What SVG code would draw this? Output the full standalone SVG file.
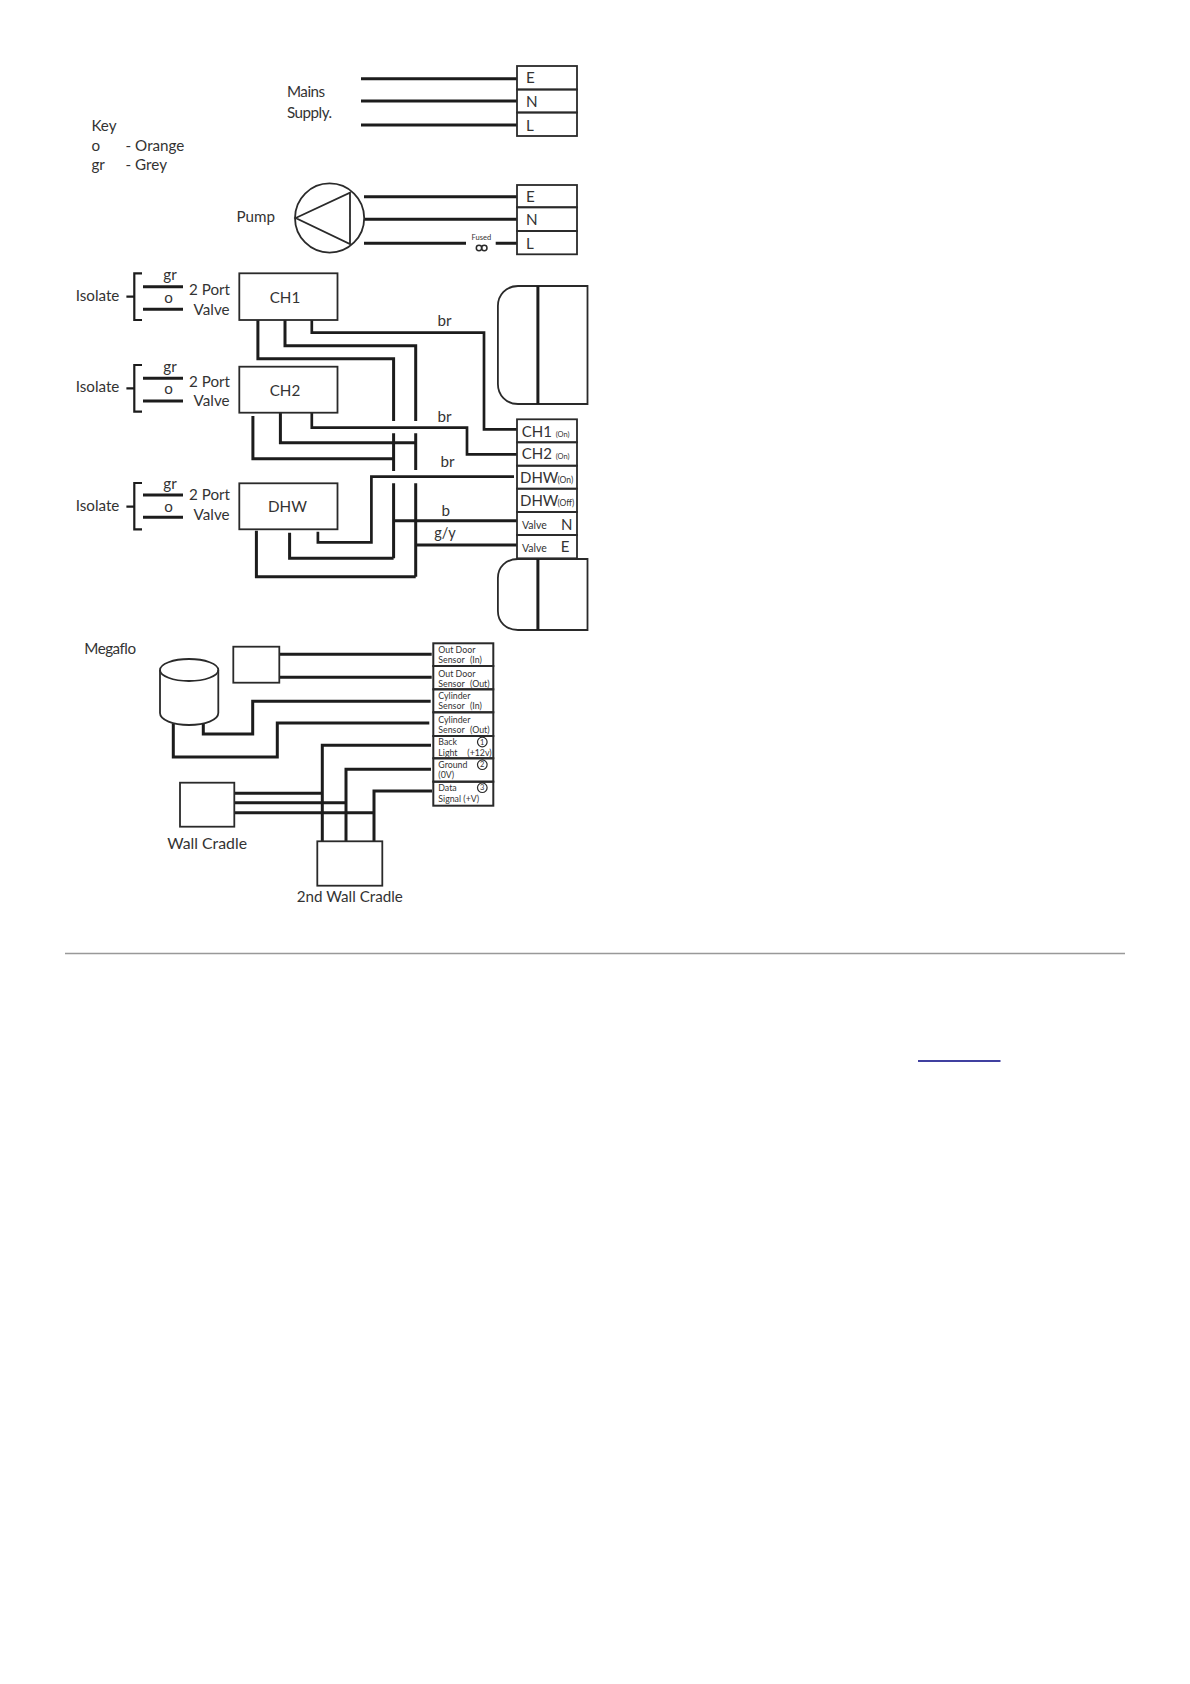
<svg xmlns="http://www.w3.org/2000/svg" width="1190" height="1684" viewBox="0 0 1190 1684">
<style>
text{font-family:"Lato","Noto Sans",sans-serif;fill:#333;font-size:15.2px}
.box{fill:none;stroke:#2a2a2a;stroke-width:1.8}
.tbl{fill:none;stroke:#2a2a2a;stroke-width:2}
.w{fill:none;stroke:#1c1c1c;stroke-width:3}
.b{fill:none;stroke:#1c1c1c;stroke-width:2.7}
.t{fill:none;stroke:#1c1c1c;stroke-width:2.2}
.m{text-anchor:middle}
.s{font-size:8.8px}
.v{font-size:10.5px}
.xs{font-size:7.5px}
.on{font-size:8.5px}
.l{font-size:15px}
.c{font-size:15.8px}
.n{letter-spacing:-0.5px}
</style>
<rect width="1190" height="1684" fill="#ffffff"/>

<g id="connectors">
<path class="w" d="M361 78.7H517M361 101H517M361 125H517"/>
<path class="w" d="M364 196.7H517M364 219.3H517M364 243.3H466M495.7 243.3H517"/>
<path class="w" d="M143 286.7H183M143 309.3H183M143 378.3H183M143 401H183M143 495H183M143 517.3H183"/>
<path class="t" d="M126.4 296.7H134.3M126.4 388.3H134.3M126.4 506.7H134.3"/>
<path class="w" d="M257.9 320V358.7H393.6V421M393.6 433.3V471M393.6 483.3V558.3"/>
<path class="w" d="M285 320V345.7H415.7V421M415.7 433.3V470M415.7 483.3V576.7"/>
<path class="b" d="M311.8 320V332.7H484V429.3H517"/>
<path class="b" d="M311.8 413V427.7H467V454.3H517"/>
<path class="w" d="M280.4 413V442.7H415.7"/>
<path class="w" d="M252.9 416V458.7H393.6"/>
<path class="b" d="M317.9 531.7V542.3H371.4V476.7H514"/>
<path class="w" d="M289.6 532.7V558.3H393.6"/>
<path class="w" d="M256.4 530.7V576.7H415.7"/>
<path class="w" d="M393.6 520.7H517"/>
<path class="w" d="M415.7 545H517"/>
<path class="w" d="M279.3 654.3H431.7M279.3 677.3H431.7"/>
<path class="w" d="M203.3 724V734H252.7V701.3H430.7"/>
<path class="w" d="M173.3 724V757H277.3V723H429.3"/>
<path class="w" d="M234.3 793.3H322.3M234.3 802.7H345.7M234.3 812.7H374"/>
<path class="w" d="M322.3 841.3V745.3H431M346 841.3V769.3H431M374 841.3V791H432"/>
</g>

<g id="key">
<text x="91.4" y="130.7">Key</text>
<text x="91.4" y="150.7">o</text>
<text x="91.4" y="170">gr</text>
<text x="125.6" y="150.7">- Orange</text>
<text x="125.6" y="170">- Grey</text>
</g>

<g id="mains">
<text class="n" x="287" y="97">Mains</text>
<text class="n" x="287" y="117.7">Supply.</text>
<rect class="box" x="517" y="66" width="60" height="23.5"/>
<rect class="box" x="517" y="89.5" width="60" height="23"/>
<rect class="box" x="517" y="112.5" width="60" height="23.5"/>
<text x="526" y="83">E</text>
<text x="526" y="106.7">N</text>
<text x="526" y="131">L</text>
</g>

<g id="pump">
<text x="236.4" y="221.7">Pump</text>
<circle class="box" cx="329.6" cy="218" r="34.6"/>
<path class="box" d="M295.7 218L350 192.7V244Z"/>
<rect class="box" x="517" y="185" width="60" height="22.3"/>
<rect class="box" x="517" y="207.3" width="60" height="23.7"/>
<rect class="box" x="517" y="231" width="60" height="23.3"/>
<text x="526" y="201.7">E</text>
<text x="526" y="225">N</text>
<text x="526" y="249.3">L</text>
<text class="xs m" x="481.4" y="240">Fused</text>
<circle cx="479" cy="248" r="2.7" fill="none" stroke="#2a2a2a" stroke-width="1.5"/>
<circle cx="484.3" cy="248" r="2.7" fill="none" stroke="#2a2a2a" stroke-width="1.5"/>
</g>

<g id="valve-ch1">
<path class="t" d="M142 273.3H134.3V320H142"/>
<text x="75.7" y="300.7">Isolate</text>
<text class="m" x="170" y="280">gr</text>
<text class="m" x="168.6" y="302.7">o</text>
<text x="189" y="295">2 Port</text>
<text x="193.6" y="315">Valve</text>
<rect class="box" x="239.3" y="273.3" width="98.2" height="46.7"/>
<text class="m" x="285" y="302.7">CH1</text>
</g>

<g id="valve-ch2">
<path class="t" d="M142 365H134.3V411.7H142"/>
<text x="75.7" y="392">Isolate</text>
<text class="m" x="170" y="371.5">gr</text>
<text class="m" x="168.6" y="394">o</text>
<text x="189" y="386.7">2 Port</text>
<text x="193.6" y="406">Valve</text>
<rect class="box" x="239.3" y="366.7" width="98.2" height="46"/>
<text class="m" x="285" y="395.7">CH2</text>
</g>

<g id="valve-dhw">
<path class="t" d="M142 483H134.3V529.3H142"/>
<text x="75.7" y="510.7">Isolate</text>
<text class="m" x="170" y="488.5">gr</text>
<text class="m" x="168.6" y="512">o</text>
<text x="189" y="500">2 Port</text>
<text x="193.6" y="520">Valve</text>
<rect class="box" x="239.3" y="483.3" width="98.2" height="46"/>
<text class="m" x="287.5" y="512">DHW</text>
</g>

<g id="wire-labels">
<text class="m" x="444.6" y="325.7">br</text>
<text class="m" x="444.6" y="421.7">br</text>
<text class="m" x="447.5" y="466.7">br</text>
<text class="m" x="445.7" y="516">b</text>
<text class="m" x="445" y="538" style="font-size:14.5px">g/y</text>
</g>

<g id="module-top">
<path class="box" d="M587.5 286H518C506 286 497.9 295 497.9 306V384C497.9 395 506 404 518 404H587.5Z"/>
<line class="w" x1="537.9" y1="286" x2="537.9" y2="404"/>
</g>

<g id="terminals">
<rect class="box" x="517" y="419.3" width="60" height="23"/>
<rect class="box" x="517" y="442.3" width="60" height="23.4"/>
<rect class="box" x="517" y="465.7" width="60" height="23"/>
<rect class="box" x="517" y="488.7" width="60" height="23.3"/>
<rect class="box" x="517" y="512" width="60" height="23"/>
<rect class="box" x="517" y="535" width="60" height="23.3"/>
<text class="l" x="521.8" y="436.7">CH1</text><text class="xs" x="555.7" y="436.7">(On)</text>
<text class="l" x="521.8" y="459.3">CH2</text><text class="xs" x="555.7" y="459.3">(On)</text>
<text class="l" x="520" y="483.3">DHW</text><text class="on" x="557.5" y="483.3">(On)</text>
<text class="l" x="520" y="505.7">DHW</text><text class="on" x="557.5" y="505.7">(Off)</text>
<text class="v" x="522" y="529">Valve</text><text class="l" x="561" y="530">N</text>
<text class="v" x="522" y="551.7">Valve</text><text class="l" x="560.7" y="552">E</text>
</g>

<g id="module-bottom">
<path class="box" d="M587.5 559H518C506 559 497.9 567 497.9 578V611C497.9 622 506 630 518 630H587.5Z"/>
<line class="w" x1="537.9" y1="559" x2="537.9" y2="630"/>
</g>

<g id="megaflo">
<text class="n" x="84.3" y="654.3">Megaflo</text>
<path class="box" d="M160 670C160 664 173 659 189 659S218.3 664 218.3 670V713C218.3 720 205 725 189 725S160 720 160 713Z"/>
<path class="box" d="M160 670C160 676 173 681 189 681S218.3 676 218.3 670"/>
</g>

<g id="outdoor-sensor"><rect class="box" x="233.3" y="646.7" width="46" height="36"/></g>

<g id="sensor-table">
<rect class="tbl" x="433.3" y="643.3" width="60" height="22.7"/>
<rect class="tbl" x="433.3" y="666" width="60" height="23.3"/>
<rect class="tbl" x="433.3" y="689.3" width="60" height="23"/>
<rect class="tbl" x="433.3" y="712.3" width="60" height="23.7"/>
<rect class="tbl" x="433.3" y="736" width="60" height="22.3"/>
<rect class="tbl" x="433.3" y="758.3" width="60" height="23.4"/>
<rect class="tbl" x="433.3" y="781.7" width="60" height="24"/>
<text class="s" x="438.3" y="652.5">Out Door</text><text class="s" x="438.3" y="662.8">Sensor</text><text class="s" x="470" y="662.8">(In)</text>
<text class="s" x="438.3" y="676.5">Out Door</text><text class="s" x="438.3" y="687">Sensor</text><text class="s" x="470" y="687">(Out)</text>
<text class="s" x="438.3" y="698.8">Cylinder</text><text class="s" x="438.3" y="709">Sensor</text><text class="s" x="470" y="709">(In)</text>
<text class="s" x="438.3" y="723">Cylinder</text><text class="s" x="438.3" y="733.3">Sensor</text><text class="s" x="470" y="733.3">(Out)</text>
<text class="s" x="438.3" y="745">Back</text><text class="s" x="438.3" y="755.6">Light</text><text class="s" x="467.3" y="755.6">(+12v)</text>
<text class="s" x="438.3" y="767.6">Ground</text><text class="s" x="438.3" y="778.3">(0V)</text>
<text class="s" x="438.3" y="791.3">Data</text><text class="s" x="438.3" y="802">Signal (+V)</text>
<circle cx="482.3" cy="742" r="4.8" fill="none" stroke="#2a2a2a" stroke-width="1.2"/><text class="xs m" x="482.3" y="744.6">1</text>
<circle cx="482.3" cy="764.7" r="4.8" fill="none" stroke="#2a2a2a" stroke-width="1.2"/><text class="xs m" x="482.3" y="767.3">2</text>
<circle cx="482.3" cy="787.7" r="4.8" fill="none" stroke="#2a2a2a" stroke-width="1.2"/><text class="xs m" x="482.3" y="790.3">3</text>
</g>

<g id="wall-cradle">
<rect class="box" x="180" y="782.7" width="54.3" height="44"/>
<text class="c" x="167.3" y="849">Wall Cradle</text>
</g>

<g id="second-wall-cradle">
<rect class="box" x="317.3" y="841.3" width="65" height="44.4"/>
<text x="296.7" y="902.3">2nd Wall Cradle</text>
</g>

<line x1="65" y1="953.5" x2="1125" y2="953.5" stroke="#999" stroke-width="1.5"/>
<line x1="918" y1="1061" x2="1000.5" y2="1061" stroke="#000080" stroke-width="1.3"/>
</svg>
